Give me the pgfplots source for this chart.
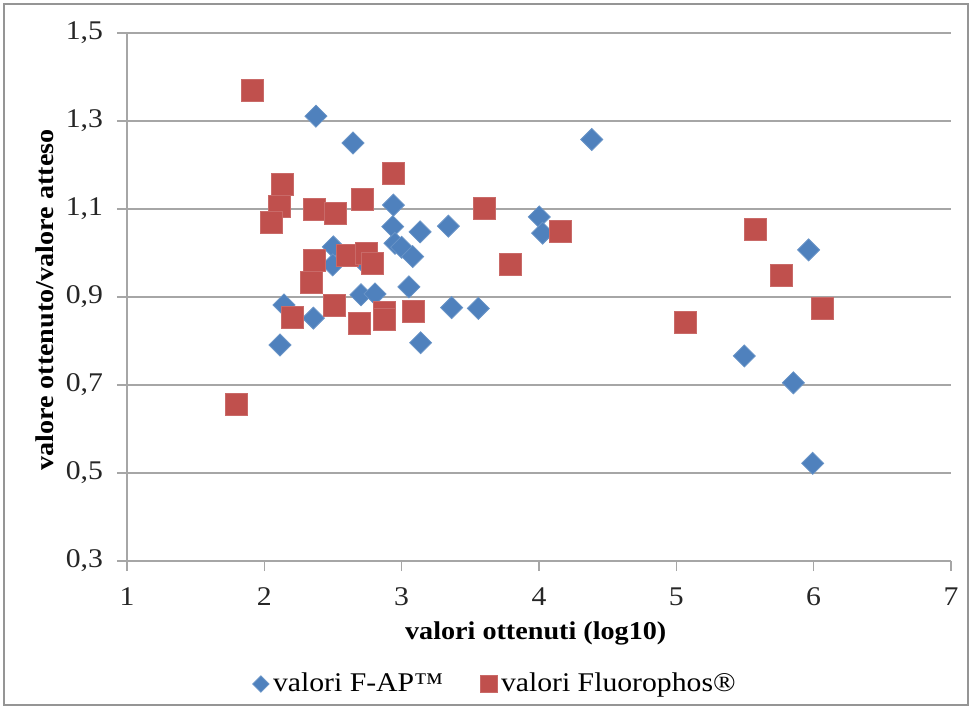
\documentclass[border=0pt]{standalone}
\usepackage{pgfplots}
\pgfplotsset{compat=1.18}
\usepackage{fontspec}
\setmainfont{Liberation Serif}[FakeStretch=1.1]
\definecolor{xblue}{HTML}{4F81BD}
\definecolor{xred}{HTML}{C0504D}
\definecolor{xgrid}{HTML}{A6A6A6}
\begin{document}
\begin{tikzpicture}
\path[use as bounding box] (-63.5pt,-74pt) rectangle (422.5pt,280.5pt);
\draw[color=xgrid!90!black, line width=1.2pt] (-61.5pt,-72pt) rectangle (420.5pt,278.5pt);
\begin{axis}[
  at={(0pt,0pt)}, anchor=south west,
  scale only axis, width=412pt, height=264pt,
  xmin=1, xmax=7, ymin=0.3, ymax=1.5,
  xtick={1,2,...,7},
  ytick={0.3,0.5,0.7,0.9,1.1,1.3,1.5},
  axis x line=bottom, axis y line=left,
  axis line style={-, color=xgrid, line width=0.8pt},
  tick style={color=xgrid, line width=0.8pt},
  tick align=outside, major tick length=5pt,
  ymajorgrids, grid style={color=xgrid, line width=0.8pt},
  /pgf/number format/assume math mode=true,
  ticklabel style={font=\fontsize{13.5}{15}\selectfont, text=black!85},
  xticklabel style={yshift=-5pt},
  yticklabel style={xshift=-3.5pt, /pgf/number format/.cd, use comma, fixed, fixed zerofill, precision=1},
  xlabel={valori ottenuti (log10)},
  ylabel={valore ottenuto/valore atteso},
  label style={font=\bfseries\fontsize{12.8}{15}\selectfont},
  xlabel style={at={(axis description cs:0.496,-0.138)}, anchor=center},
  ylabel style={at={(axis description cs:-0.0995,0.494)}, anchor=center, rotate=0},
  legend columns=2,
  legend style={at={(axis description cs:0.448,-0.233)}, anchor=center, draw=none,
    font=\fontsize{13.5}{15}\selectfont,
    /tikz/every even column/.append style={column sep=16.5pt}},
  legend cell align=left,
]
\addplot[only marks, mark=square*, mark size=3.9pt, mark options={rotate=45, fill=xblue, draw=xblue!85!white},
  legend image post style={mark size=2.9pt}] coordinates {
(2.376,1.311) (2.646,1.250) (4.384,1.258) (4.002,1.082) (4.026,1.045)
(5.963,1.007) (5.495,0.766) (5.852,0.705) (5.993,0.522) (2.502,1.014)
(2.498,0.973) (2.143,0.882) (2.357,0.852) (2.114,0.791) (2.704,0.905)
(2.806,0.907) (2.940,1.109) (2.935,1.060) (3.134,1.048) (3.340,1.061)
(2.951,1.022) (3.000,1.013) (3.080,0.992) (3.053,0.923) (3.364,0.876)
(3.558,0.874) (3.138,0.796) (2.720,0.980)
};
\addlegendentry{valori F-AP™}
\addplot[only marks, mark=square*, mark size=5.5pt, mark options={fill=xred, draw=xred!85!white},
  legend image post style={mark size=4.2pt}] coordinates {
(1.912,1.370) (1.794,0.657) (2.131,1.156) (2.112,1.105) (2.049,1.069)
(2.362,1.098) (2.520,1.090) (2.713,1.122) (2.940,1.181) (3.600,1.102)
(4.153,1.050) (3.789,0.974) (5.575,1.054) (5.765,0.948) (6.063,0.874)
(5.065,0.842) (2.362,0.984) (2.342,0.933) (2.607,0.995) (2.745,1.000)
(2.789,0.977) (2.512,0.881) (2.201,0.853) (2.689,0.839) (2.871,0.865)
(2.871,0.850) (3.085,0.868)
};
\addlegendentry{valori Fluorophos®}
\end{axis}
\end{tikzpicture}
\end{document}
